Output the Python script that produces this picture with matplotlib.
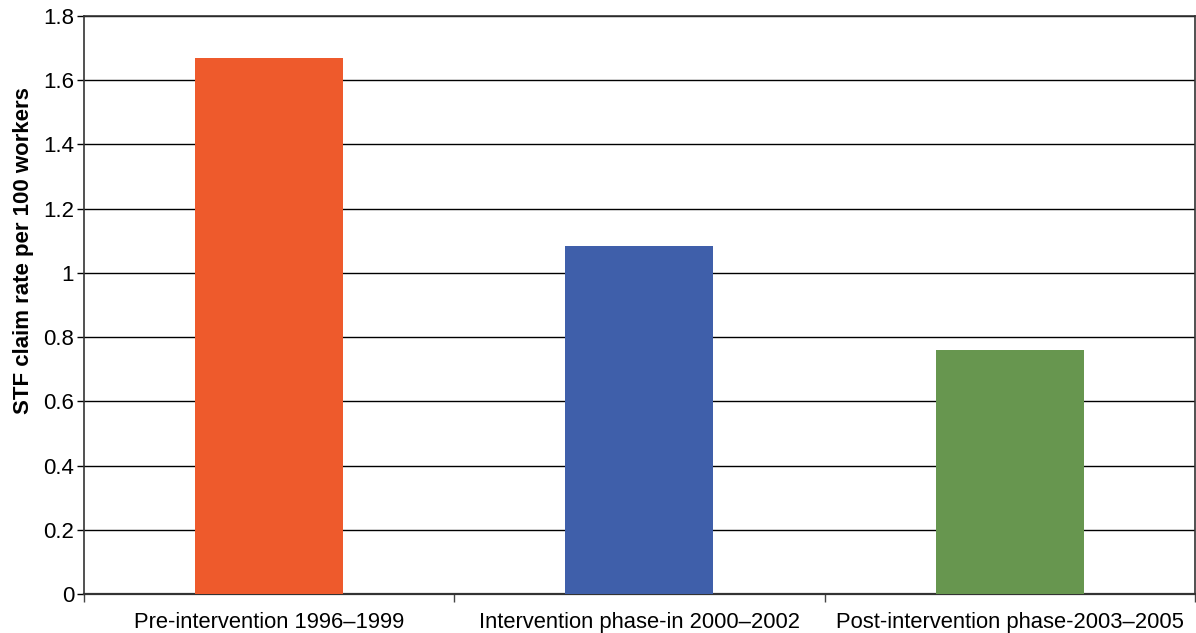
import matplotlib.pyplot as plt
import numpy as np

categories = ["Pre-intervention 1996\u20131999", "Intervention phase-in 2000\u20132002", "Post-intervention phase-2003\u20132005"]
rates = [1.67, 1.085, 0.76]
colors = ["#EE5A2C", "#3F5FAA", "#67964F"]

plt.rcParams['font.family'] = ['Liberation Sans', 'DejaVu Sans']

fig = plt.figure(figsize=(11.96, 6.33), dpi=100)
ax = fig.add_axes([0.0702, 0.0616, 0.9288, 0.9131])

x = np.arange(len(categories))
ax.bar(x, rates, width=0.4, color=colors, zorder=3)

ax.set_xlim(-0.5, 2.5)
ax.set_ylim(0, 1.8)
ax.set_yticks(np.arange(0, 1.81, 0.2))
ax.set_yticklabels(["0", "0.2", "0.4", "0.6", "0.8", "1", "1.2", "1.4", "1.6", "1.8"])
ax.yaxis.grid(True, color="black", linewidth=1.0, zorder=0)

ax.set_xticks(x)
ax.set_xticklabels(categories, fontsize=15.8)
ax.set_xticks([-0.5, 0.5, 1.5, 2.5], minor=True)
ax.tick_params(axis='x', which='major', length=0, pad=13)
ax.tick_params(axis='x', which='minor', length=6, color="#444444", width=1)
ax.tick_params(axis='y', length=5, width=1, labelsize=16, pad=2)

for side in ['left', 'bottom', 'right', 'top']:
    ax.spines[side].set_color("#333333")
    ax.spines[side].set_linewidth(1.2)
ax.spines['bottom'].set_linewidth(1.6)

ax.set_ylabel("STF claim rate per 100 workers", fontsize=16, fontweight='bold')
ax.yaxis.set_label_coords(-0.045, 0.595)

fig.savefig("out.png", dpi=100)
